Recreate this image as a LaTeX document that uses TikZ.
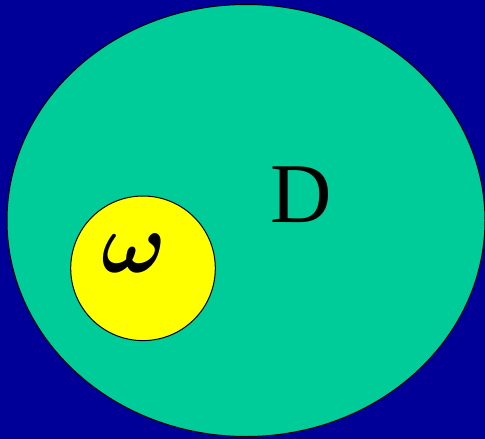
\documentclass[tikz,border=0pt]{standalone}
\usepackage{amsmath,amssymb}
\usepackage{fontspec}
\setmainfont{Liberation Serif}
\usepackage{xcolor}
\usetikzlibrary{shapes.geometric,positioning}

\definecolor{bgblue}{HTML}{000099}
\definecolor{domteal}{HTML}{00CC99}
\definecolor{subyellow}{HTML}{FFFF00}

\begin{document}
\begin{tikzpicture}[
    x=1pt, y=-1pt,
    region/.style={draw=black, line width=1pt, fill=#1, inner sep=0pt},
    region/.default=domteal,
    lbl/.style={font=\fontsize{85}{85}\selectfont, text=black, inner sep=0pt},
  ]
  % background
  \fill[bgblue] (0,0) rectangle (485,439);
  \useasboundingbox (0,0) rectangle (485,439);

  \node[region, ellipse, minimum width=478pt, minimum height=432pt] (dom) at (246,220.5) {};
  \node[region=subyellow, circle, minimum size=144.6pt] (sub) at (143,268.3) {};

  % labels
  \node[lbl, anchor=base] (dlbl) at (301.5,222.5) {D};
  \node[lbl, anchor=base, font=\Huge, scale=3.46, transform shape] (wlbl) at (133.5,272) {$\boldsymbol{\omega}$};
\end{tikzpicture}
\end{document}
